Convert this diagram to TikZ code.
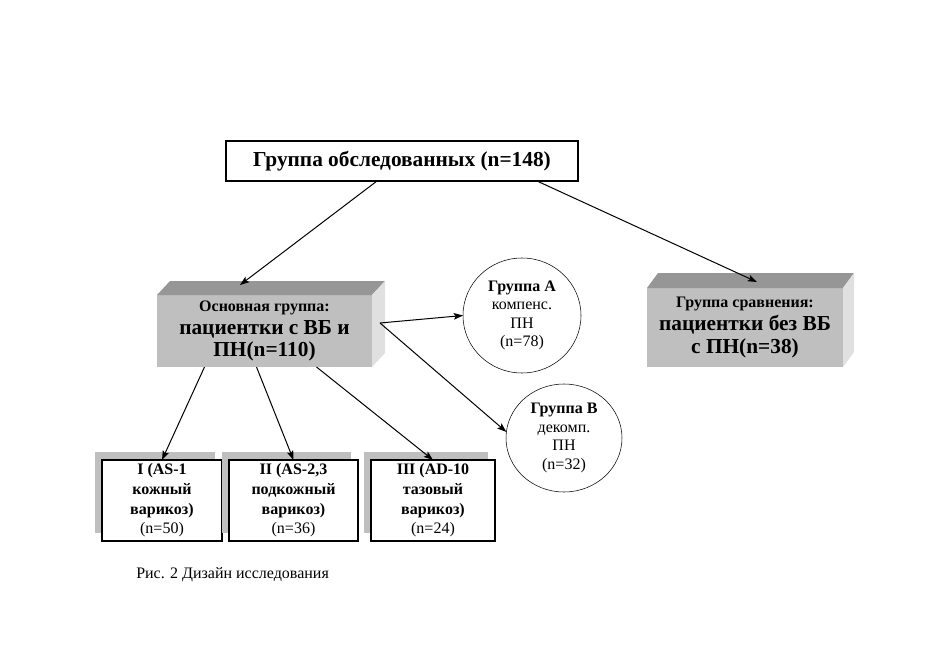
\documentclass[tikz,border=0pt]{standalone}
\usepackage{fontspec}
\setmainfont{Liberation Serif}
\usetikzlibrary{shapes.geometric,shadows,arrows.meta}
\definecolor{frontgray}{gray}{0.75}
\definecolor{topgray}{gray}{0.59}
\definecolor{sidegray}{gray}{0.88}
\definecolor{shadowgray}{gray}{0.75}
\begin{document}
\begin{tikzpicture}[x=0.75pt, y=-0.75pt,
	box3d/.style={fill=frontgray, align=center, inner sep=0pt, outer sep=0pt, font=\bfseries\fontsize{16}{17}\selectfont},
	subbox/.style={draw, line width=1.5pt, fill=white, align=center, inner sep=0pt, outer sep=0pt, minimum height=60.75pt, font=\fontsize{12}{14.8}\selectfont, drop shadow={shadow xshift=-5.25pt, shadow yshift=6pt, fill=shadowgray, opacity=1}},
	grcircle/.style={ellipse, draw, line width=0.4pt, align=center, inner sep=0pt, outer sep=0pt, font=\fontsize{12}{13.8}\selectfont},
	arr/.style={-{Stealth[length=7pt, width=5pt, inset=1.5pt]}, line width=0.75pt}]
	\useasboundingbox (0,0) rectangle (950,671);
	\node[draw, line width=2.2pt, minimum width=264pt, minimum height=30pt, inner sep=0pt, outer sep=0pt, font=\bfseries\fontsize{16}{18}\selectfont] (top) at (402,161) {Группа обследованных (n=148)};
	\node[box3d, minimum width=161.25pt, minimum height=54pt] (main) at (264.5,331) {{\fontsize{12}{14}\selectfont Основная группа:}\\пациентки с ВБ и\\ПН(n=110)};
	\fill[topgray] (main.north west) -- ++(13,-14) -- ([shift={(13,-14)}]main.north east) -- (main.north east) -- cycle;
	\fill[sidegray] (main.north east) -- ++(13,-14) -- ([shift={(13,-14)}]main.south east) -- (main.south east) -- cycle;
	\node[box3d, minimum width=147pt, minimum height=59.25pt] (comp) at (745,327.5) {{\fontsize{12}{14}\selectfont Группа сравнения:}\\пациентки без ВБ\\с ПН(n=38)};
	\fill[topgray] (comp.north west) -- ++(11,-15) -- ([shift={(11,-15)}]comp.north east) -- (comp.north east) -- cycle;
	\fill[sidegray] (comp.north east) -- ++(11,-15) -- ([shift={(11,-15)}]comp.south east) -- (comp.south east) -- cycle;
	\node[grcircle, minimum width=88.5pt, minimum height=86.25pt] (grA) at (522,315.5) {\textbf{Группа А}\\компенс.\\ПН\\(n=78)};
	\node[grcircle, minimum width=87pt, minimum height=81pt] (grB) at (564,438) {\textbf{Группа В}\\декомп.\\ПН\\(n=32)};
	\node[subbox, minimum width=90pt] (sub1) at (162,500.5) {\textbf{I (AS-1}\\\textbf{кожный}\\\textbf{варикоз)}\\(n=50)};
	\node[subbox, minimum width=96.75pt] (sub2) at (293.5,500.5) {\textbf{II (AS-2,3}\\\textbf{подкожный}\\\textbf{варикоз)}\\(n=36)};
	\node[subbox, minimum width=93pt] (sub3) at (433,500.5) {\textbf{III (AD-10}\\\textbf{тазовый}\\\textbf{варикоз)}\\(n=24)};
	\node[anchor=west, inner sep=0pt, font=\fontsize{12}{14}\selectfont] (caption) at (136,575) {Рис. 2 Дизайн исследования};
	\coordinate (mainTop) at ([shift={(-24.5,-10)}]main.north);
	\coordinate (compTop) at ([shift={(12,-6)}]comp.north);
	\coordinate (mainR) at ([shift={(8,-8)}]main.east);
	\draw[arr] ([shift={(-25,0)}]top.south) -- (mainTop);
	\draw[arr] ([shift={(135,0)}]top.south) -- (compTop);
	\draw[arr] (mainR) -- (grA.west);
	\draw[arr] (mainR) -- (grB.174);
	\draw[arr] ([shift={(-60,0)}]main.south) -- (sub1.north);
	\draw[arr] ([shift={(-8,0)}]main.south) -- (sub2.north);
	\draw[arr] ([shift={(52,0)}]main.south) -- (sub3.north);
\end{tikzpicture}
\end{document}
